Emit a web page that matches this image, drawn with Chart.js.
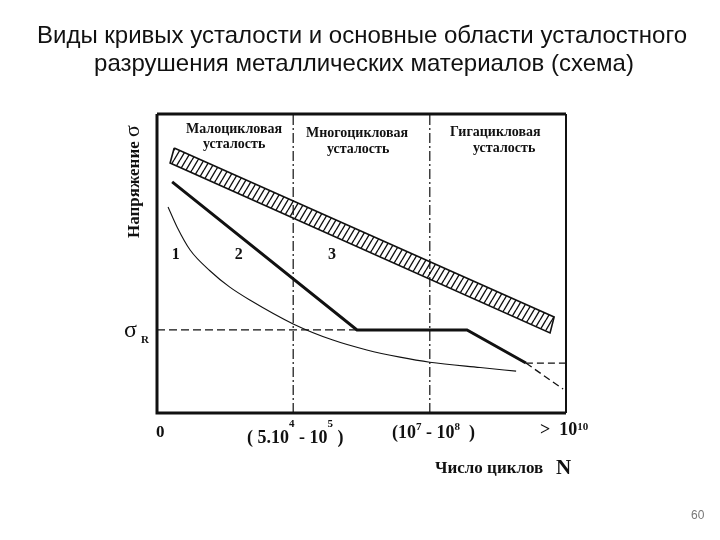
<!DOCTYPE html>
<html>
<head>
<meta charset="utf-8">
<script src="https://cdn.jsdelivr.net/npm/chart.js@4"></script>
<style>
  html, body { margin: 0; padding: 0; background: #fff; }
  #chart { display: block; }
</style>
</head>
<body>
<canvas id="chart" width="720" height="540"></canvas>
<script>
// Schematic S-N diagram, arbitrary units 0..100 on both axes

// curve 1 (thin, low-cycle)
const curve1X = [2.7, 4.9, 8.1, 13.0, 17.8, 22.7, 33.3, 43.0, 51.3, 59.4, 66.7, 79.0, 87.8];
const curve1Y = [68.9, 62.2, 54.5, 47.5, 42.1, 37.8, 29.8, 24.4, 21.1, 18.7, 17.0, 15.2, 14.0];

// curve 2 (thick, with plateau and second drop)
const curve2X = [3.7, 48.9, 75.8, 90.2];
const curve2Y = [77.3, 27.8, 27.8, 16.7];

// dashed continuations of curve 2
const tailFlatX = [90.2, 100];
const tailFlatY = [16.7, 16.7];
const tailDropX = [90.2, 99.3];
const tailDropY = [16.7, 8.0];

// hatched band (curve 3), closed outline
const bandX = [4.2, 97.1, 96.1, 3.2, 4.2];
const bandY = [88.6, 32.1, 26.8, 83.6, 88.6];

// endurance limit sigma_R
const sigmaRX = [0, 48.9];
const sigmaRY = [27.8, 27.8];

// region borders
const borderX = [33.3, 66.7];

const regionNames = ['Малоцикловая', 'Многоцикловая', 'Гигацикловая'];
const curveNames = ['1', '2', '3'];
const curveLabelX = [4.6, 20.0, 42.8];

function pts(xs, ys) {
  return xs.map((x, i) => ({ x: x, y: ys[i] }));
}

function hatchPattern() {
  const c = document.createElement('canvas');
  c.width = 6; c.height = 10;
  const g = c.getContext('2d');
  g.strokeStyle = '#111';
  g.lineWidth = 1.4;
  g.beginPath();
  for (let k = -1; k <= 1; k++) {
    g.moveTo(k * 6, 10);
    g.lineTo(k * 6 + 6, 0);
  }
  g.stroke();
  return g.createPattern(c, 'repeat');
}

const base = { showLine: true, pointRadius: 0, borderColor: '#111', fill: false };

const datasets = [
  Object.assign({}, base, { data: pts(bandX, bandY), borderWidth: 1.6, fill: 'shape', backgroundColor: hatchPattern() }),
  Object.assign({}, base, { data: pts(curve1X, curve1Y), borderWidth: 1.1, cubicInterpolationMode: 'monotone' }),
  Object.assign({}, base, { data: pts(curve2X, curve2Y), borderWidth: 3 }),
  Object.assign({}, base, { data: pts(tailFlatX, tailFlatY), borderWidth: 1.3, borderDash: [7, 4] }),
  Object.assign({}, base, { data: pts(tailDropX, tailDropY), borderWidth: 1.3, borderDash: [7, 4] }),
  Object.assign({}, base, { data: pts(sigmaRX, sigmaRY), borderWidth: 1.2, borderDash: [8, 4] })
];
borderX.forEach(x => {
  datasets.push(Object.assign({}, base, { data: pts([x, x], [0, 100]), borderWidth: 1.2, borderDash: [10, 3, 2, 3] }));
});

function sup(ctx, parts, x, y, rise) {
  // parts: [text, isSuper]
  let cx = x;
  parts.forEach(p => {
    ctx.font = p[1] ? 'bold 11px "Liberation Serif"' : 'bold 18px "Liberation Serif"';
    ctx.fillText(p[0], cx, p[1] ? y - rise : y);
    cx += ctx.measureText(p[0]).width;
  });
}

const decorPlugin = {
  id: 'decor',
  afterDraw(chart) {
    const ctx = chart.ctx;
    const a = chart.chartArea;
    const xs = chart.scales.x;
    ctx.save();
    ctx.fillStyle = '#111';
    ctx.strokeStyle = '#111';

    // frame
    ctx.lineWidth = 3;
    ctx.beginPath();
    ctx.moveTo(a.left, a.top); ctx.lineTo(a.left, a.bottom); ctx.lineTo(a.right, a.bottom);
    ctx.moveTo(a.left, a.top); ctx.lineTo(a.right, a.top);
    ctx.stroke();
    ctx.lineWidth = 2;
    ctx.beginPath();
    ctx.moveTo(a.right, a.top); ctx.lineTo(a.right, a.bottom);
    ctx.stroke();

    // title
    ctx.textAlign = 'center';
    ctx.textBaseline = 'alphabetic';
    ctx.font = '24px "Liberation Sans"';
    ctx.fillText('Виды кривых усталости и основные области усталостного', 362, 43);
    ctx.fillText('разрушения металлических материалов (схема)', 364, 71);

    // region labels
    ctx.font = 'bold 14px "Liberation Serif"';
    ctx.textAlign = 'left';
    ctx.fillText(regionNames[0], 186, 133);
    ctx.fillText('усталость', 203, 148);
    ctx.fillText(regionNames[1], 306, 137);
    ctx.fillText('усталость', 327, 153);
    ctx.fillText(regionNames[2], 450, 136);
    ctx.fillText('усталость', 473, 152);

    // curve numbers
    ctx.font = 'bold 16px "Liberation Serif"';
    ctx.textAlign = 'center';
    curveNames.forEach((n, i) => {
      ctx.fillText(n, xs.getPixelForValue(curveLabelX[i]), 259);
    });

    // y axis title
    ctx.save();
    ctx.translate(139, 238);
    ctx.rotate(-Math.PI / 2);
    ctx.textAlign = 'left';
    ctx.font = 'bold 17px "Liberation Serif"';
    ctx.fillText('Напряжение', 0, 0);
    const w = ctx.measureText('Напряжение ').width;
    ctx.font = '22px "Liberation Serif"';
    ctx.fillText('σ', w, 0);
    ctx.restore();

    // sigma_R
    ctx.textAlign = 'left';
    ctx.font = '24px "Liberation Serif"';
    ctx.fillText('σ', 124, 337);
    ctx.font = 'bold 11px "Liberation Serif"';
    ctx.fillText('R', 141, 343);

    // x tick labels
    ctx.font = 'bold 17px "Liberation Serif"';
    ctx.textAlign = 'center';
    ctx.fillText('0', xs.getPixelForValue(0.8), 437);
    ctx.textAlign = 'left';
    sup(ctx, [['( 5.10', 0], ['4', 1], [' - 10', 0], ['5', 1], [' )', 0]], 247, 443, 16);
    sup(ctx, [['(10', 0], ['7', 1], [' - 10', 0], ['8', 1], ['  )', 0]], 392, 438, 8);
    sup(ctx, [['>  10', 0], ['10', 1]], 540, 435, 5);

    // x axis title
    ctx.font = 'bold 17px "Liberation Serif"';
    ctx.fillText('Число циклов', 435, 473);
    ctx.font = 'bold 21px "Liberation Serif"';
    ctx.fillText('N', 556, 474);

    // page number
    ctx.font = '12px "Liberation Sans"';
    ctx.fillStyle = '#777';
    ctx.fillText('60', 691, 519);
    ctx.restore();
  }
};

new Chart(document.getElementById('chart'), {
  type: 'scatter',
  data: { datasets: datasets },
  options: {
    responsive: false,
    animation: false,
    layout: { padding: { left: 157, top: 114, right: 154, bottom: 127 } },
    plugins: { legend: { display: false }, tooltip: { enabled: false } },
    scales: {
      x: { type: 'linear', min: 0, max: 100, display: false },
      y: { type: 'linear', min: 0, max: 100, display: false }
    }
  },
  plugins: [decorPlugin]
});
</script>
</body>
</html>
